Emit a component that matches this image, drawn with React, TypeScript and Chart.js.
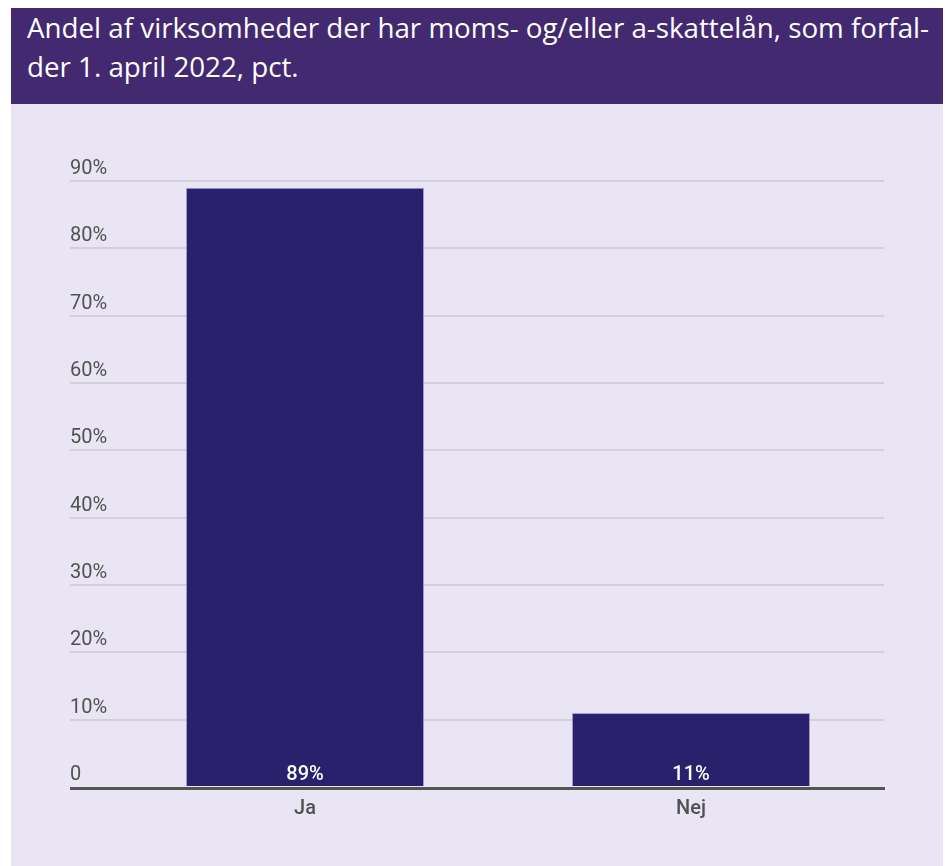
import React, { useEffect, useLayoutEffect, useRef, useState } from "react";
import { Chart, registerables } from "chart.js";

Chart.register(...registerables);

const titleLines = [
  "Andel af virksomheder der har moms- og/eller a-skattelån, som forfal-",
  "der 1. april 2022, pct.",
];
const categories = ["Ja", "Nej"];
const values = [89, 11];
const valueLabels = ["89%", "11%"];
const yTickValues = [0, 10, 20, 30, 40, 50, 60, 70, 80, 90];
const yTickLabels = ["0", "10%", "20%", "30%", "40%", "50%", "60%", "70%", "80%", "90%"];

const BAR_COLOR = "#29216c";
const TEXT_COLOR = "#515151";
const GRID_COLOR = "#d3cfdc";
const LABEL_GAP = 42;

const overlayPlugin = {
  id: "overlay",
  afterDatasetsDraw(chart: any) {
    const { ctx, chartArea, scales } = chart;
    const y = scales.y;
    const x = scales.x;
    const left = chartArea.left - LABEL_GAP;
    ctx.save();
    const y0 = y.getPixelForValue(0);
    ctx.strokeStyle = "#555555";
    ctx.lineWidth = 3;
    ctx.beginPath();
    ctx.moveTo(left, y0 + 1.5);
    ctx.lineTo(chartArea.right + 1, y0 + 1.5);
    ctx.stroke();
    ctx.fillStyle = TEXT_COLOR;
    ctx.font = "400 20px Roboto";
    ctx.textAlign = "left";
    ctx.textBaseline = "alphabetic";
    yTickValues.forEach((v, i) => {
      ctx.fillText(yTickLabels[i], left, y.getPixelForValue(v) - 7);
    });
    ctx.fillStyle = "#ffffff";
    ctx.font = "500 20px Roboto";
    ctx.textAlign = "center";
    categories.forEach((c, i) => {
      ctx.fillText(valueLabels[i], x.getPixelForValue(i), y0 - 7);
    });
    ctx.restore();
  },
};

function BarChart() {
  const ref = useRef<HTMLCanvasElement | null>(null);
  useEffect(() => {
    if (!ref.current) return;
    const chart = new Chart(ref.current, {
      type: "bar",
      data: {
        labels: categories,
        datasets: [
          {
            data: values,
            backgroundColor: BAR_COLOR,
            borderColor: "rgba(140,130,190,0.7)",
            borderWidth: 1,
            categoryPercentage: 1,
            barPercentage: 0.617,
          },
        ],
      },
      options: {
        animation: false,
        responsive: false,
        maintainAspectRatio: false,
        layout: { padding: { left: 59, right: 59, top: 77, bottom: 39 } },
        plugins: {
          legend: { display: false },
          tooltip: { enabled: false },
          title: { display: false },
        },
        scales: {
          x: {
            grid: { display: false, drawTicks: false },
            border: { display: false },
            ticks: {
              color: TEXT_COLOR,
              font: { family: "Roboto", size: 20, weight: "500" },
              padding: 10,
            },
            afterFit(scale: any) {
              scale.height = 40;
            },
          },
          y: {
            min: 0,
            max: 90,
            border: { display: false },
            grid: {
              color: (c: any) => (c.tick && c.tick.value === 0 ? "rgba(0,0,0,0)" : GRID_COLOR),
              lineWidth: 2,
              drawTicks: true,
              tickLength: LABEL_GAP,
            },
            ticks: { stepSize: 10, display: false },
            afterFit(scale: any) {
              scale.width = LABEL_GAP;
            },
          },
        },
      },
      plugins: [overlayPlugin],
    } as any);
    return () => chart.destroy();
  }, []);
  return <canvas ref={ref} width={932} height={762} style={{ display: "block", width: 932, height: 762 }} />;
}

export default function App() {
  const lineRef = useRef<HTMLSpanElement | null>(null);
  const [scale, setScale] = useState(1);
  useLayoutEffect(() => {
    if (lineRef.current) {
      const w = lineRef.current.getBoundingClientRect().width;
      if (w > 0) setScale(902 / w);
    }
  }, []);
  const lineStyle: React.CSSProperties = {
    display: "inline-block",
    whiteSpace: "nowrap",
    transform: `scaleX(${scale})`,
    transformOrigin: "left center",
  };
  return (
    <div style={{ position: "absolute", left: 11, top: 8, width: 932 }}>
      <div
        style={{
          background: "#43296f",
          height: 96,
          boxSizing: "border-box",
          paddingLeft: 16,
          color: "#ffffff",
          fontFamily: "'Open Sans', sans-serif",
          fontSize: 28,
          lineHeight: "39px",
          overflow: "hidden",
        }}
      >
        <span ref={lineRef} style={lineStyle}>{titleLines[0]}</span>
        <br />
        <span style={lineStyle}>{titleLines[1]}</span>
      </div>
      <div style={{ background: "#e9e5f4", height: 762 }}>
        <BarChart />
      </div>
    </div>
  );
}
